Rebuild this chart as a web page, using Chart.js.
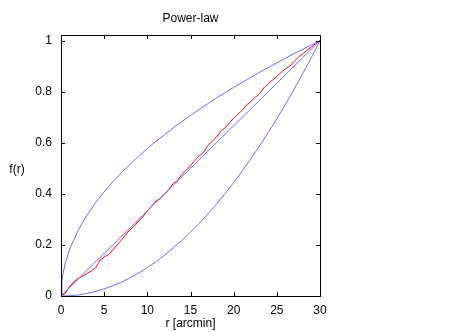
<!DOCTYPE html>
<html><head><meta charset="utf-8">
<script src="https://cdn.jsdelivr.net/npm/chart.js@4/dist/chart.umd.min.js"></script>
<style>html,body{margin:0;padding:0;background:#fff}</style>
</head><body>
<canvas id="c" width="473" height="332" style="display:block"></canvas>
<script>
const titleText = "Power-law";
const xLabel = "r [arcmin]";
const yLabel = "f(r)";
const xTicks = [0, 5, 10, 15, 20, 25, 30];
const yTicks = [0, 0.2, 0.4, 0.6, 0.8, 1];
const yTickLabels = ["0", "0.2", "0.4", "0.6", "0.8", "1"];

// model curves (blue)
const rModel = [0, 0.1, 0.25, 0.5, 1, 2, 3, 4, 5, 6, 7, 8, 9, 10, 11, 12, 13, 14, 15, 16, 17, 18, 19, 20, 21, 22, 23, 24, 25, 26, 27, 28, 29, 30];
const fUpper = [0, 0.058, 0.091, 0.129, 0.183, 0.258, 0.316, 0.365, 0.408, 0.447, 0.483, 0.516, 0.548, 0.577, 0.606, 0.632, 0.658, 0.683, 0.707, 0.730, 0.753, 0.775, 0.796, 0.817, 0.837, 0.856, 0.876, 0.894, 0.913, 0.931, 0.949, 0.966, 0.983, 1];
const rLinear = [0, 15, 30];
const fLinear = [0, 0.5, 1];
const fLower = [0, 0, 0, 0, 0.001, 0.004, 0.010, 0.018, 0.028, 0.040, 0.054, 0.071, 0.090, 0.111, 0.134, 0.160, 0.188, 0.218, 0.250, 0.284, 0.321, 0.360, 0.401, 0.444, 0.490, 0.538, 0.588, 0.640, 0.694, 0.751, 0.810, 0.871, 0.934, 1];

// measured cumulative distribution (red)
const rData = [0, 0.5, 1, 1.5, 2, 2.5, 3, 3.5, 4, 4.5, 5, 5.5, 6, 6.5, 7, 7.5, 8, 8.5, 9, 9.5, 10, 10.5, 11, 11.5, 12, 12.5, 13, 13.5, 14, 14.5, 15, 15.5, 16, 16.5, 17, 17.5, 18, 18.5, 19, 19.5, 20, 20.5, 21, 21.5, 22, 22.5, 23, 23.5, 24, 24.5, 25, 25.5, 26, 26.5, 27, 27.5, 28, 28.5, 29, 29.5, 30];
const fData = [0, 0.010, 0.038, 0.055, 0.070, 0.078, 0.088, 0.098, 0.110, 0.140, 0.152, 0.162, 0.180, 0.200, 0.218, 0.240, 0.260, 0.274, 0.294, 0.310, 0.333, 0.352, 0.372, 0.382, 0.400, 0.418, 0.440, 0.452, 0.476, 0.492, 0.510, 0.530, 0.549, 0.562, 0.588, 0.606, 0.622, 0.645, 0.658, 0.678, 0.697, 0.712, 0.727, 0.748, 0.762, 0.778, 0.792, 0.815, 0.832, 0.845, 0.860, 0.875, 0.890, 0.900, 0.918, 0.935, 0.948, 0.962, 0.975, 0.988, 1];

const pts = (xs, ys) => xs.map((x, i) => ({ x: x, y: ys[i] }));
const FONT = "'Liberation Sans', Arial, sans-serif";

const framePlugin = {
  id: 'frame',
  afterDraw(chart) {
    const { ctx, chartArea: a, scales } = chart;
    ctx.save();
    ctx.strokeStyle = '#000';
    ctx.lineWidth = 1;
    ctx.strokeRect(Math.round(a.left) + 0.5, Math.round(a.top) + 0.5, Math.round(a.right - a.left), Math.round(a.bottom - a.top));
    const L = 4;
    ctx.beginPath();
    xTicks.forEach(v => {
      const px = Math.round(scales.x.getPixelForValue(v)) + 0.5;
      ctx.moveTo(px, a.bottom); ctx.lineTo(px, a.bottom - L);
      ctx.moveTo(px, a.top); ctx.lineTo(px, a.top + L);
    });
    yTicks.forEach(v => {
      const py = Math.round(scales.y.getPixelForValue(v)) + 0.5;
      ctx.moveTo(a.left, py); ctx.lineTo(a.left + L, py);
      ctx.moveTo(a.right, py); ctx.lineTo(a.right - L, py);
    });
    ctx.stroke();
    ctx.fillStyle = '#000';
    ctx.font = '12px ' + FONT;
    ctx.textAlign = 'center';
    ctx.textBaseline = 'alphabetic';
    const cx = (a.left + a.right) / 2;
    ctx.fillText(titleText, cx, 22);
    ctx.fillText(xLabel, cx, 327);
    ctx.fillText(yLabel, 17, 173);
    ctx.restore();
  }
};

new Chart(document.getElementById('c'), {
  type: 'scatter',
  data: {
    datasets: [
      { data: pts(rModel, fUpper), borderColor: '#6a6aff', borderWidth: 1, showLine: true, pointRadius: 0, tension: 0 },
      { data: pts(rLinear, fLinear), borderColor: '#6a6aff', borderWidth: 1, showLine: true, pointRadius: 0, tension: 0 },
      { data: pts(rModel, fLower), borderColor: '#6a6aff', borderWidth: 1, showLine: true, pointRadius: 0, tension: 0 },
      { data: pts(rData, fData), borderColor: '#ff0000', borderWidth: 1, showLine: true, pointRadius: 0, tension: 0 }
    ]
  },
  options: {
    responsive: false,
    animation: false,
    devicePixelRatio: 1,
    layout: { padding: { top: 35, right: 153, bottom: 0, left: 0 } },
    plugins: { legend: { display: false }, tooltip: { enabled: false }, title: { display: false } },
    scales: {
      x: {
        type: 'linear', min: 0, max: 30,
        grid: { display: false, drawTicks: false },
        border: { display: false },
        afterFit(s) { s.height = 36; },
        afterBuildTicks(s) { s.ticks = xTicks.map(v => ({ value: v })); },
        ticks: { padding: 7, color: '#000', font: { family: FONT, size: 12 }, maxRotation: 0, autoSkip: false, callback: v => String(v) }
      },
      y: {
        type: 'linear', min: 0, max: 1.022,
        grid: { display: false, drawTicks: false },
        border: { display: false },
        afterFit(s) { s.width = 61; },
        afterBuildTicks(s) { s.ticks = yTicks.map(v => ({ value: v })); },
        ticks: { padding: 9, color: '#000', font: { family: FONT, size: 12 }, autoSkip: false,
          callback: (v) => { const i = yTicks.indexOf(v); return i >= 0 ? yTickLabels[i] : ''; } }
      }
    }
  },
  plugins: [framePlugin]
});
</script>
</body></html>
